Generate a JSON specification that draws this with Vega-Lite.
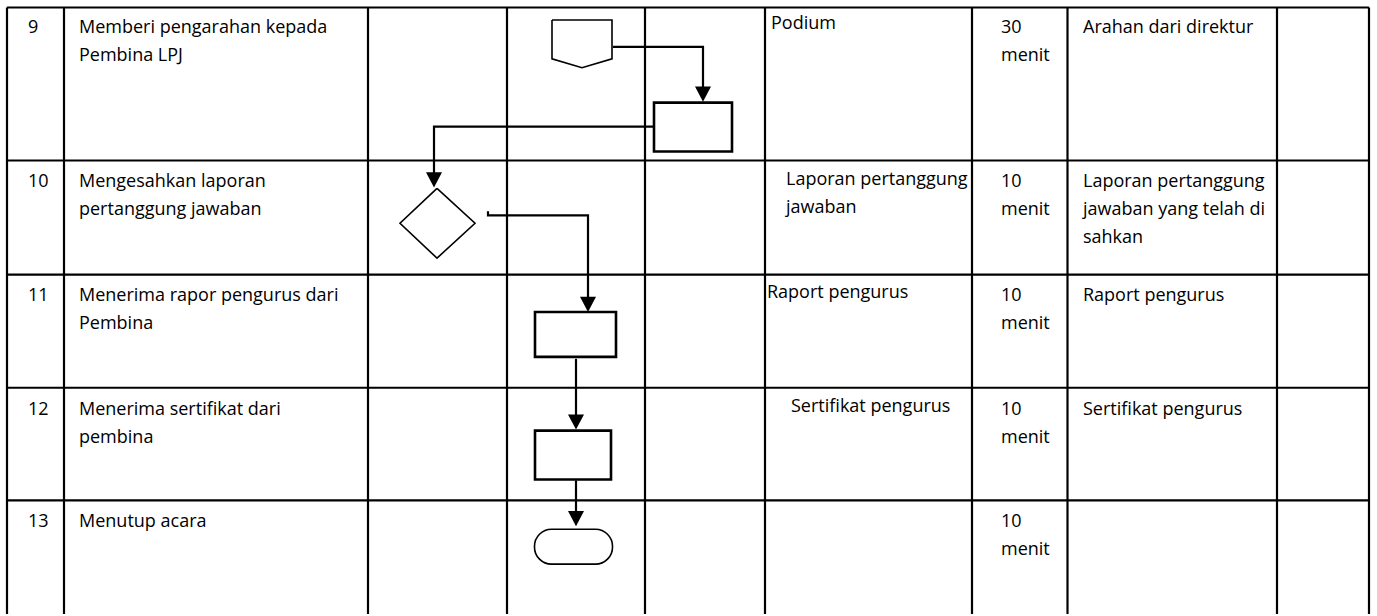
{
  "$schema": "https://vega.github.io/schema/vega-lite/v6.json",
  "width": 1377,
  "height": 616,
  "padding": 0,
  "autosize": {"type": "fit", "contains": "padding"},
  "background": "white",
  "config": {"view": {"stroke": null}},
  "datasets": {
    "grid": [
      {"x": 7, "y": 7.5, "x2": 7, "y2": 616},
      {"x": 64, "y": 7.5, "x2": 64, "y2": 616},
      {"x": 368, "y": 7.5, "x2": 368, "y2": 616},
      {"x": 507, "y": 7.5, "x2": 507, "y2": 616},
      {"x": 645, "y": 7.5, "x2": 645, "y2": 616},
      {"x": 765, "y": 7.5, "x2": 765, "y2": 616},
      {"x": 972, "y": 7.5, "x2": 972, "y2": 616},
      {"x": 1067.5, "y": 7.5, "x2": 1067.5, "y2": 616},
      {"x": 1277, "y": 7.5, "x2": 1277, "y2": 616},
      {"x": 1369, "y": 7.5, "x2": 1369, "y2": 616},
      {"x": 7, "y": 7.5, "x2": 1369, "y2": 7.5},
      {"x": 7, "y": 161, "x2": 1369, "y2": 161},
      {"x": 7, "y": 275.5, "x2": 1369, "y2": 275.5},
      {"x": 7, "y": 389, "x2": 1369, "y2": 389},
      {"x": 7, "y": 502, "x2": 1369, "y2": 502}
    ],
    "flow": [
      {"id": "a", "o": 1, "x": 613, "y": 47},
      {"id": "a", "o": 2, "x": 703, "y": 47},
      {"id": "a", "o": 3, "x": 703, "y": 90},
      {"id": "b", "o": 1, "x": 657, "y": 127},
      {"id": "b", "o": 2, "x": 434, "y": 127},
      {"id": "b", "o": 3, "x": 434, "y": 176},
      {"id": "c", "o": 1, "x": 488, "y": 212},
      {"id": "c", "o": 2, "x": 488, "y": 216},
      {"id": "c", "o": 3, "x": 588, "y": 216},
      {"id": "c", "o": 4, "x": 588, "y": 300},
      {"id": "d", "o": 1, "x": 576, "y": 360},
      {"id": "d", "o": 2, "x": 576, "y": 418},
      {"id": "e", "o": 1, "x": 576, "y": 482},
      {"id": "e", "o": 2, "x": 576, "y": 515}
    ],
    "arrows": [
      {"x": 703, "y": 102},
      {"x": 434, "y": 188},
      {"x": 588, "y": 313},
      {"x": 576, "y": 431},
      {"x": 576, "y": 528}
    ],
    "outlines": [
      {"id": "connector", "o": 1, "x": 552, "y": 20},
      {"id": "connector", "o": 2, "x": 612, "y": 20},
      {"id": "connector", "o": 3, "x": 612, "y": 59},
      {"id": "connector", "o": 4, "x": 582, "y": 68},
      {"id": "connector", "o": 5, "x": 552, "y": 59},
      {"id": "connector", "o": 6, "x": 552, "y": 20},
      {"id": "decision", "o": 1, "x": 437, "y": 189},
      {"id": "decision", "o": 2, "x": 475, "y": 224},
      {"id": "decision", "o": 3, "x": 437, "y": 259},
      {"id": "decision", "o": 4, "x": 400, "y": 224},
      {"id": "decision", "o": 5, "x": 437, "y": 189}
    ],
    "boxes": [
      {"x": 654, "x2": 732, "y": 103, "y2": 152},
      {"x": 535, "x2": 616, "y": 313, "y2": 358},
      {"x": 535, "x2": 611, "y": 432, "y2": 481}
    ],
    "terminator": [
      {"x": 534.5, "x2": 612.5, "y": 531, "y2": 566}
    ],
    "labels": [
      {"col": "no", "x": 28, "y": 33, "text": "9"},
      {"col": "no", "x": 28, "y": 188, "text": "10"},
      {"col": "no", "x": 28, "y": 302, "text": "11"},
      {"col": "no", "x": 28, "y": 416, "text": "12"},
      {"col": "no", "x": 28, "y": 529, "text": "13"},
      {"col": "kegiatan", "x": 79, "y": 33, "text": "Memberi pengarahan kepada\nPembina LPJ"},
      {"col": "kegiatan", "x": 79, "y": 188, "text": "Mengesahkan laporan\npertanggung jawaban"},
      {"col": "kegiatan", "x": 79, "y": 302, "text": "Menerima rapor pengurus dari\nPembina"},
      {"col": "kegiatan", "x": 79, "y": 416, "text": "Menerima sertifikat dari\npembina"},
      {"col": "kegiatan", "x": 79, "y": 529, "text": "Menutup acara"},
      {"col": "kelengkapan", "x": 771, "y": 29, "text": "Podium"},
      {"col": "kelengkapan", "x": 786, "y": 186, "text": "Laporan pertanggung\njawaban"},
      {"col": "kelengkapan", "x": 767, "y": 299, "text": "Raport pengurus"},
      {"col": "kelengkapan", "x": 791, "y": 413, "text": "Sertifikat pengurus"},
      {"col": "waktu", "x": 1001, "y": 33, "text": "30\nmenit"},
      {"col": "waktu", "x": 1001, "y": 188, "text": "10\nmenit"},
      {"col": "waktu", "x": 1001, "y": 302, "text": "10\nmenit"},
      {"col": "waktu", "x": 1001, "y": 416, "text": "10\nmenit"},
      {"col": "waktu", "x": 1001, "y": 529, "text": "10\nmenit"},
      {"col": "output", "x": 1083, "y": 33, "text": "Arahan dari direktur"},
      {"col": "output", "x": 1083, "y": 188, "text": "Laporan pertanggung\njawaban yang telah di\nsahkan"},
      {"col": "output", "x": 1083, "y": 302, "text": "Raport pengurus"},
      {"col": "output", "x": 1083, "y": 416, "text": "Sertifikat pengurus"}
    ]
  },
  "resolve": {"scale": {"x": "shared", "y": "shared"}},
  "layer": [
    {
      "data": {"name": "grid"},
      "mark": {"type": "rule", "color": "black", "strokeWidth": 2.2},
      "encoding": {
        "x": {"field": "x", "type": "quantitative", "scale": {"domain": [0, 1377], "nice": false, "zero": false}, "axis": null},
        "y": {"field": "y", "type": "quantitative", "scale": {"domain": [0, 616], "nice": false, "zero": false, "reverse": true}, "axis": null},
        "x2": {"field": "x2"},
        "y2": {"field": "y2"}
      }
    },
    {
      "data": {"name": "flow"},
      "mark": {"type": "line", "color": "black", "strokeWidth": 2.2, "strokeJoin": "miter", "interpolate": "linear"},
      "encoding": {
        "x": {"field": "x", "type": "quantitative", "axis": null},
        "y": {"field": "y", "type": "quantitative", "axis": null},
        "detail": {"field": "id", "type": "nominal"},
        "order": {"field": "o", "type": "quantitative"}
      }
    },
    {
      "data": {"name": "outlines"},
      "mark": {"type": "line", "color": "black", "strokeWidth": 1.6, "strokeJoin": "miter", "interpolate": "linear"},
      "encoding": {
        "x": {"field": "x", "type": "quantitative", "axis": null},
        "y": {"field": "y", "type": "quantitative", "axis": null},
        "detail": {"field": "id", "type": "nominal"},
        "order": {"field": "o", "type": "quantitative"}
      }
    },
    {
      "data": {"name": "boxes"},
      "mark": {"type": "rect", "fill": "white", "stroke": "black", "strokeWidth": 2.6},
      "encoding": {
        "x": {"field": "x", "type": "quantitative", "axis": null},
        "x2": {"field": "x2"},
        "y": {"field": "y", "type": "quantitative", "axis": null},
        "y2": {"field": "y2"}
      }
    },
    {
      "data": {"name": "terminator"},
      "mark": {"type": "rect", "fill": "white", "stroke": "black", "strokeWidth": 1.6, "cornerRadius": 17},
      "encoding": {
        "x": {"field": "x", "type": "quantitative", "axis": null},
        "x2": {"field": "x2"},
        "y": {"field": "y", "type": "quantitative", "axis": null},
        "y2": {"field": "y2"}
      }
    },
    {
      "data": {"name": "arrows"},
      "mark": {"type": "point", "shape": "M-1,-1.9L1,-1.9L0,0Z", "size": 256, "filled": true, "color": "black", "opacity": 1, "strokeWidth": 0},
      "encoding": {
        "x": {"field": "x", "type": "quantitative", "axis": null},
        "y": {"field": "y", "type": "quantitative", "axis": null}
      }
    },
    {
      "data": {"name": "labels"},
      "transform": [{"filter": "datum.col !== 'kegiatan'"}],
      "mark": {"type": "text", "align": "left", "baseline": "alphabetic", "font": "Open Sans", "fontSize": 18, "lineHeight": 28, "lineBreak": "\n", "color": "black"},
      "encoding": {
        "x": {"field": "x", "type": "quantitative", "axis": null},
        "y": {"field": "y", "type": "quantitative", "axis": null},
        "text": {"field": "text", "type": "nominal"}
      }
    },
    {
      "data": {"name": "labels"},
      "transform": [{"filter": "datum.col === 'kegiatan'"}],
      "mark": {"type": "text", "align": "left", "baseline": "alphabetic", "font": "Open Sans", "fontSize": 18, "lineHeight": 28, "lineBreak": "\n", "color": "black", "letterSpacing": 0.6},
      "encoding": {
        "x": {"field": "x", "type": "quantitative", "axis": null},
        "y": {"field": "y", "type": "quantitative", "axis": null},
        "text": {"field": "text", "type": "nominal"}
      }
    }
  ]
}
